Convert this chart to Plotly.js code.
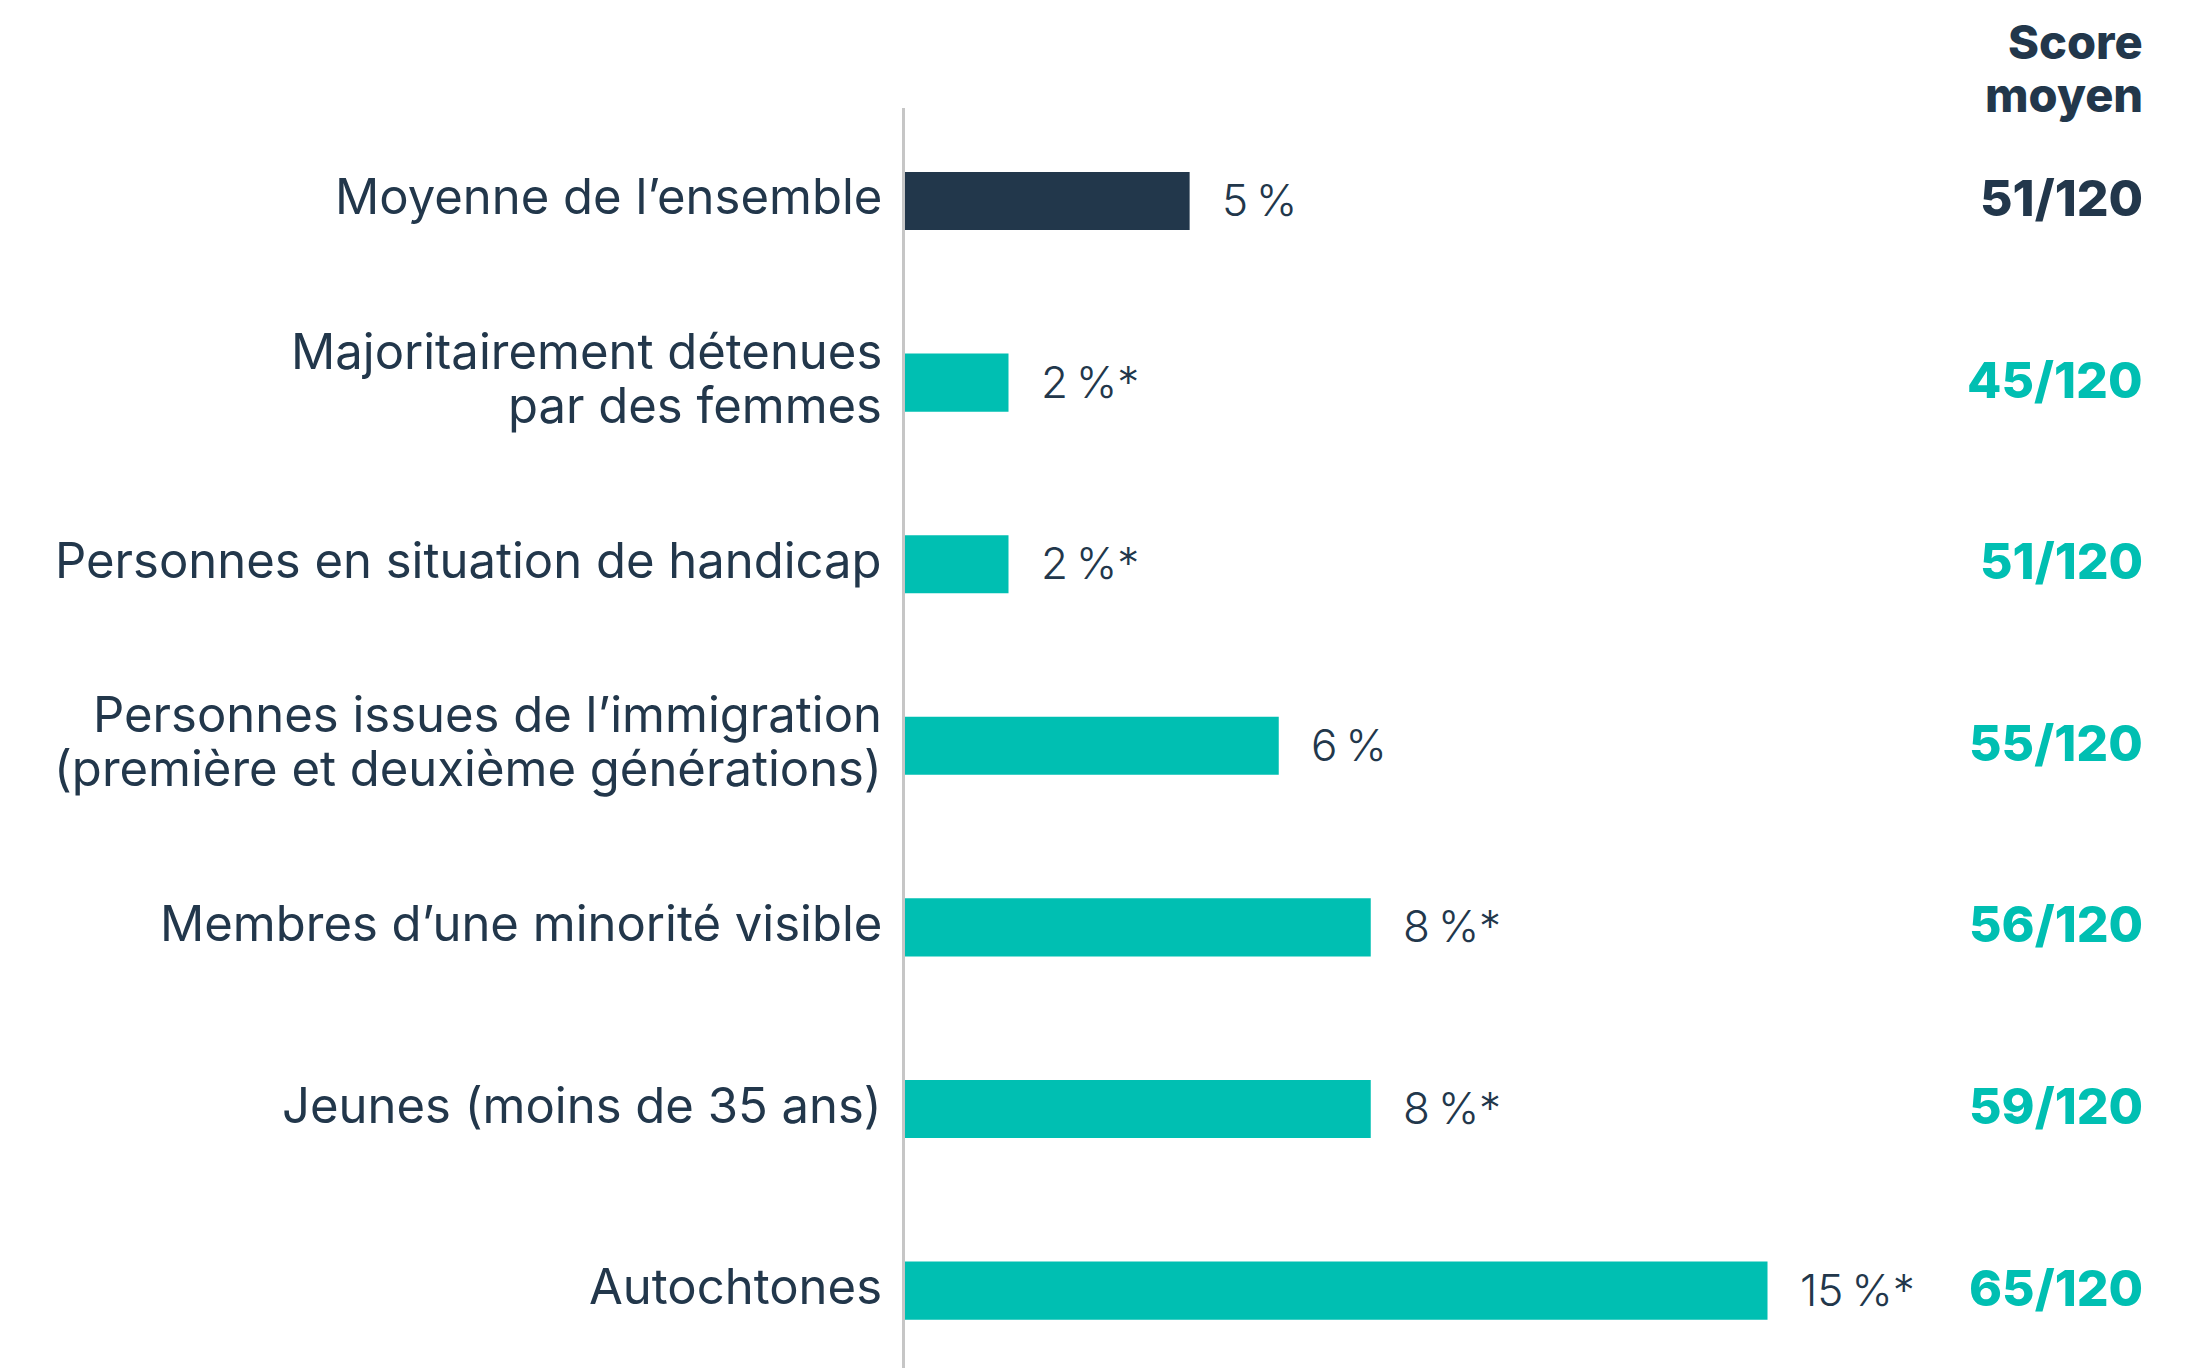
<!DOCTYPE html>
<html>
<head>
<meta charset="utf-8">
<script src="https://cdn.plot.ly/plotly-3.0.1.min.js"></script>
<style>
html, body { margin: 0; padding: 0; background: #ffffff; }
#chart { width: 2198px; height: 1368px; }
</style>
</head>
<body>
<div id="chart"></div>
<script>
const categories = [
  "Moyenne de l’ensemble",
  "Majoritairement détenues<br>par des femmes",
  "Personnes en situation de handicap",
  "Personnes issues de l’immigration<br>(première et deuxième générations)",
  "Membres d’une minorité visible",
  "Jeunes (moins de 35 ans)",
  "Autochtones"
];
const shares = [4.95, 1.8, 1.8, 6.5, 8.1, 8.1, 15.0];
const shareLabels = ["5\u202F%", "2\u202F%*", "2\u202F%*", "6\u202F%", "8\u202F%*", "8\u202F%*", "15\u202F%*"];
const scores = ["51/120", "45/120", "51/120", "55/120", "56/120", "59/120", "65/120"];
const scoreHeaderLines = ["Score", "moyen"];

const DARK = "#22374b";
const TEAL = "#00bfb2";
const FONT = "Inter, 'Open Sans', sans-serif";

const barColors = categories.map((c, i) => i === 0 ? DARK : TEAL);

const trace = {
  type: "bar",
  orientation: "h",
  x: shares,
  y: categories,
  marker: { color: barColors, line: { width: 0 } },
  width: 0.32,
  hoverinfo: "skip"
};

const annotations = [];
const LINE_GAP = 54;
categories.forEach((c, i) => {
  const lines = c.split("<br>");
  const n = lines.length;
  lines.forEach((ln, k) => {
    annotations.push({
      x: 0, y: c, xref: "paper", yref: "y",
      text: ln, showarrow: false,
      xanchor: "right", yanchor: "middle", xshift: -21,
      yshift: 4 + ((n - 1) / 2 - k) * LINE_GAP,
      font: { family: FONT, size: 49, color: DARK }
    });
  });
  annotations.push({
    x: shares[i], y: c, xref: "x", yref: "y",
    text: shareLabels[i], showarrow: false,
    xanchor: "left", yanchor: "middle", xshift: 30, yshift: 1,
    font: { family: FONT, size: 44, color: DARK, weight: 300 }
  });
  annotations.push({
    x: 1, y: c, xref: "paper", yref: "y",
    text: scores[i], showarrow: false,
    xanchor: "right", yanchor: "middle", yshift: 3,
    font: { family: FONT, size: 50, color: i === 0 ? DARK : TEAL, weight: 800 }
  });
});
scoreHeaderLines.forEach((t, k) => {
  annotations.push({
    x: 1, y: 1, xref: "paper", yref: "paper",
    text: t, showarrow: false,
    xanchor: "right", yanchor: "middle", yshift: 67 - 53 * k,
    font: { family: FONT, size: 47, color: DARK, weight: 800 }
  });
});

const layout = {
  width: 2198, height: 1368,
  margin: { l: 905, r: 53, t: 108, b: 0, pad: 0 },
  paper_bgcolor: "#ffffff", plot_bgcolor: "#ffffff",
  showlegend: false,
  bargap: 0.68,
  xaxis: {
    range: [0, 21.565], showgrid: false, zeroline: false, showline: false,
    showticklabels: false, ticks: "", fixedrange: true
  },
  yaxis: {
    type: "category",
    range: [6.426, -0.512],
    showgrid: false, zeroline: false,
    showline: true, linecolor: "#c6c6c6", linewidth: 3,
    ticks: "", showticklabels: false,
    fixedrange: true
  },
  annotations: annotations
};

Plotly.newPlot("chart", [trace], layout, { displayModeBar: false, staticPlot: true });
</script>
</body>
</html>
